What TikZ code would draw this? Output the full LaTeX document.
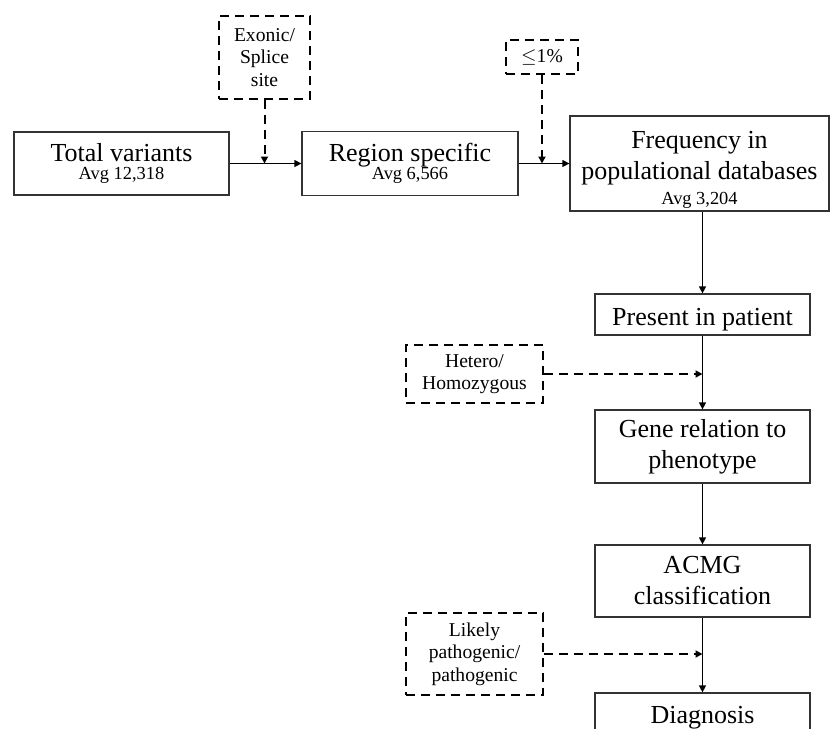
\documentclass[tikz,border=0pt]{standalone}
\usepackage{fontspec}
\setmainfont{Liberation Serif}
\usetikzlibrary{arrows.meta}
\tikzset{
  stage/.style = {draw = black!80, line width = 0.6pt, align = center, inner sep = 0pt,
    minimum width = 107.5pt, font = \fontsize{13}{15.5}\selectfont},
  filter/.style = {draw, line width = 1pt, dash pattern = on 4.5pt off 3pt, align = center,
    inner sep = 0pt, font = \fontsize{9.8}{11.3}\selectfont},
  flow/.style = {-{Triangle[length = 3.5pt, width = 3.5pt]}, line width = 0.6pt},
  dflow/.style = {flow, line width = 1pt, dash pattern = on 4.5pt off 3pt}
}
\newcommand{\avgline}[1]{{\fontsize{9.2}{9.2}\selectfont Avg #1}}
\begin{document}
\begin{tikzpicture}[x = 0.5pt, y = -0.5pt]
    \useasboundingbox (0,0) rectangle (832,729);
    \clip (0,0) rectangle (832,729);
    \node[stage, minimum height = 31.5pt] (total) at (121.5,163.5) {Total variants\\[-6.8pt]\avgline{12,318}};
    \node[stage, minimum width = 108pt, minimum height = 32pt] (region) at (410,163.5) {Region specific\\[-6.8pt]\avgline{6,566}};
    \node[stage, minimum width = 129.5pt, minimum height = 47.5pt] (freq) at (699.5,163.5) {\rule{0pt}{14.7pt}Frequency in\\populational databases\\[-3pt]\avgline{3,204}};
    \node[stage, minimum height = 20.5pt] (present) at (702.5,314.5) {\rule{0pt}{14pt}Present in patient};
    \node[stage, minimum height = 36.5pt] (gene) at (702.5,446.5) {Gene relation to\\phenotype};
    \node[stage, minimum height = 36pt] (acmg) at (702.5,581) {ACMG\\classification};
    \node[stage, minimum height = 20.5pt] (diag) at (702.5,713.5) {\rule{0pt}{13pt}Diagnosis};
    \node[filter, minimum width = 45.5pt, minimum height = 41.5pt] (exonic) at (264.5,57.5) {Exonic/\\Splice\\site};
    \node[filter, minimum width = 36pt, minimum height = 17pt] (freqcut) at (542,57) {$\leq$1\%};
    \node[filter, minimum width = 68.5pt, minimum height = 29pt] (zyg) at (474.5,374) {Hetero/\\Homozygous};
    \node[filter, minimum width = 68.5pt, minimum height = 41pt] (patho) at (474.5,654) {Likely\\pathogenic/\\pathogenic};
    \draw[flow] (total) -- (region);
    \draw[flow] (region) -- (freq);
    \draw[flow] (present.north |- freq.south) -- (present.north);
    \draw[flow] (present) -- (gene);
    \draw[flow] (gene) -- (acmg);
    \draw[flow] (acmg) -- (diag);
    \draw[dflow] (exonic) -- (exonic.south |- total.east);
    \draw[dflow] (freqcut) -- (freqcut.south |- region.east);
    \draw[dflow] (zyg) -- (zyg.east -| present.south);
    \draw[dflow] (patho) -- (patho.east -| acmg.south);
  \end{tikzpicture}
\end{document}
